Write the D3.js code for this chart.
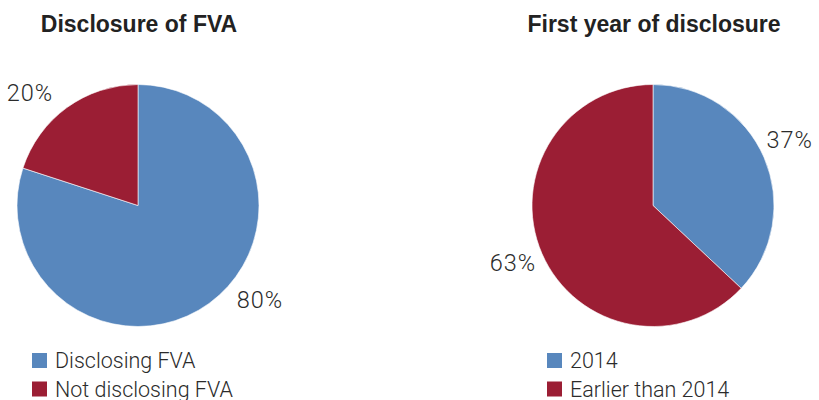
<!DOCTYPE html>
<html>
<head>
<meta charset="utf-8">
<script src="https://cdn.jsdelivr.net/npm/d3@7"></script>
<style>
  html, body { margin: 0; padding: 0; background: #fff; }
  svg { display: block; }
</style>
</head>
<body>
<svg id="chart" width="819" height="400"></svg>
<script>
// ---- Data ----
const titles = ["Disclosure of FVA", "First year of disclosure"];
const leftCategories = ["Disclosing FVA", "Not disclosing FVA"];
const leftValues = [80, 20];
const rightCategories = ["2014", "Earlier than 2014"];
const rightValues = [37, 63];
const seriesColors = ["#5887BD", "#9B1E34"];

// ---- Layout ----
const W = 819, H = 400;
const R = 121;
const centers = [[138, 205.5], [653, 205.5]];
const svg = d3.select("#chart");
const textColor = "#2b2b2b";
const labelFont = "Roboto, 'Liberation Sans', Arial, sans-serif";

const pie = d3.pie().sort(null).value(d => d.value).startAngle(0).endAngle(2 * Math.PI);
const arc = d3.arc().innerRadius(0).outerRadius(R);

const charts = [
  { title: titles[0], cats: leftCategories, vals: leftValues },
  { title: titles[1], cats: rightCategories, vals: rightValues }
];

charts.forEach((c, i) => {
  const [cx, cy] = centers[i];
  const color = d3.scaleOrdinal().domain(c.cats).range(seriesColors);
  const data = c.cats.map((k, j) => ({ key: k, value: c.vals[j] }));
  const arcs = pie(data);
  const total = d3.sum(c.vals);

  // title
  svg.append("text")
    .attr("x", cx + 1).attr("y", 32)
    .attr("text-anchor", "middle")
    .attr("font-family", "'Liberation Sans', Arial, sans-serif")
    .attr("font-weight", "bold")
    .attr("font-size", 23)
    .attr("fill", "#222")
    .text(c.title);

  const g = svg.append("g").attr("transform", `translate(${cx},${cy})`);
  g.selectAll("path").data(arcs).join("path")
    .attr("d", arc)
    .attr("fill", d => color(d.data.key))
    .attr("stroke", "#fff")
    .attr("stroke-width", 0.6);

  // labels: outside, along mid-angle, kept inside plot area bounds
  const lr = R * 1.28;
  const topLim = -109, botLim = 98;
  arcs.forEach(d => {
    let a = (d.startAngle + d.endAngle) / 2;
    let dx = lr * Math.sin(a), dy = -lr * Math.cos(a);
    if (dy < topLim || dy > botLim) {
      dy = Math.max(topLim, Math.min(botLim, dy));
      const s = Math.sign(dx) || 1;
      dx = s * Math.sqrt(lr * lr - dy * dy);
    }
    const t = g.append("text")
      .attr("y", dy - 4)
      .attr("text-anchor", "middle")
      .attr("dominant-baseline", "central")
      .attr("font-family", labelFont)
      .attr("font-weight", 300)
      .attr("font-size", 23.5)
      .attr("letter-spacing", 1)
      .attr("fill", textColor)
      .text(Math.round(d.data.value / total * 100) + "%");
    const half = t.node().getComputedTextLength() / 2;
    const x = Math.max(4 + half - cx, Math.min(W - 6 - half - cx, dx + 2));
    t.attr("x", x);
  });

  // legend
  const lx = cx - 106;
  const ly = d3.scalePoint().domain(c.cats).range([360.5, 389]);
  const lg = svg.append("g");
  c.cats.forEach(k => {
    lg.append("rect")
      .attr("x", lx).attr("y", ly(k) - 7.5)
      .attr("width", 15).attr("height", 15)
      .attr("fill", color(k));
    lg.append("text")
      .attr("x", lx + 23).attr("y", ly(k))
      .attr("dominant-baseline", "central")
      .attr("font-family", labelFont)
      .attr("font-weight", 300)
      .attr("font-size", 21.5)
      .attr("fill", textColor)
      .text(k);
  });
});
</script>
</body>
</html>
